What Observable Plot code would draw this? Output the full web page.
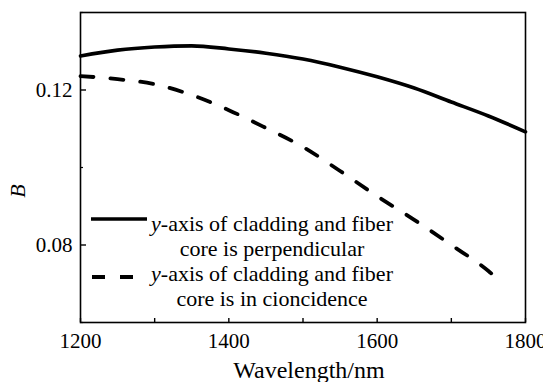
<!DOCTYPE html>
<html>
<head>
<meta charset="utf-8">
<script src="https://cdn.jsdelivr.net/npm/d3@7"></script>
<script src="https://cdn.jsdelivr.net/npm/@observablehq/plot@0.6"></script>
<style>html, body { margin: 0; padding: 0; background: #fff; }</style>
</head>
<body>
<div id="chart"></div>
<script>
// Data
const wavelengthSolid = [1200, 1250, 1300, 1350, 1400, 1450, 1500, 1550, 1600, 1650, 1700, 1750, 1800];
const bPerpendicular = [0.1288, 0.1303, 0.1311, 0.1314, 0.1306, 0.1295, 0.1280, 0.1259, 0.1234, 0.1205, 0.1169, 0.1133, 0.1092];
const wavelengthDashed = [1200, 1250, 1300, 1350, 1400, 1450, 1500, 1550, 1600, 1650, 1700, 1750, 1770];
const bCoincidence = [0.1236, 0.1228, 0.1215, 0.1187, 0.1148, 0.1102, 0.1053, 0.0991, 0.0926, 0.0865, 0.0800, 0.0733, 0.0699];
const xTickLabels = [1200, 1400, 1600, 1800];
const xTicksAll = [1200, 1300, 1400, 1500, 1600, 1700, 1800];
const yTickLabels = [0.08, 0.12];
const yMinorTicks = [0.06, 0.10, 0.14];
const legendSolid = ["y-axis of cladding and fiber", "core is perpendicular"];
const legendDashed = ["y-axis of cladding and fiber", "core is in cioncidence"];
const xLabel = "Wavelength/nm";
const yLabel = "B";

const solidData = wavelengthSolid.map((w, i) => ({w, b: bPerpendicular[i]}));
const dashedData = wavelengthDashed.map((w, i) => ({w, b: bCoincidence[i]}));

const font = "Liberation Serif";

const plot = Plot.plot({
  width: 543,
  height: 382,
  marginLeft: 80,
  marginRight: 18,
  marginTop: 12,
  marginBottom: 60,
  style: {fontSize: "21px"},
  x: {domain: [1200, 1800]},
  y: {domain: [0.06, 0.14]},
  marks: [
    Plot.line(solidData, {x: "w", y: "b", stroke: "#000", strokeWidth: 3.6, curve: "monotone-x"}),
    Plot.line(dashedData, {x: "w", y: "b", stroke: "#000", strokeWidth: 3.8, strokeDasharray: "13,17", curve: "monotone-x"}),
    Plot.frame({stroke: "#000", strokeWidth: 1.6}),
    Plot.axisX(xTicksAll, {tickSize: -4, strokeWidth: 1.4, text: null, label: null}),
    Plot.axisX(xTickLabels, {tickSize: 0, tickPadding: 11, label: null, tickFormat: d => String(d)}),
    Plot.axisY(yTickLabels, {tickSize: -6, strokeWidth: 1.4, text: null, label: null}),
    Plot.axisY(yMinorTicks, {tickSize: -3, strokeWidth: 1.2, text: null, label: null}),
    Plot.axisY(yTickLabels, {tickSize: 0, tickPadding: 8, label: null, tickFormat: d => d.toFixed(2)})
  ]
});
plot.setAttribute("font-family", font);

document.getElementById("chart").appendChild(plot);

const svg = d3.select(plot);
// Axis titles
svg.append("text")
  .attr("x", 309).attr("y", 378)
  .attr("text-anchor", "middle")
  .attr("font-family", font).attr("font-size", 24)
  .text(xLabel);
svg.append("text")
  .attr("transform", "translate(25,191) rotate(-90)")
  .attr("text-anchor", "middle")
  .attr("font-family", font).attr("font-size", 22).attr("font-style", "italic")
  .text(yLabel);

// Legend
const lg = svg.append("g").attr("font-family", font).attr("font-size", 22).attr("fill", "#000");
lg.append("line").attr("x1", 91).attr("x2", 147).attr("y1", 219).attr("y2", 219)
  .attr("stroke", "#000").attr("stroke-width", 3.6);
lg.append("line").attr("x1", 92).attr("x2", 134).attr("y1", 277).attr("y2", 277)
  .attr("stroke", "#000").attr("stroke-width", 3.8).attr("stroke-dasharray", "13,15");

function legendLines(lines, y0) {
  lines.forEach((t, i) => {
    const txt = lg.append("text").attr("x", 272).attr("y", y0 + i * 25).attr("text-anchor", "middle");
    if (t.startsWith("y-")) {
      txt.append("tspan").attr("font-style", "italic").text("y");
      txt.append("tspan").text(t.slice(1));
    } else {
      txt.text(t);
    }
  });
}
legendLines(legendSolid, 231);
legendLines(legendDashed, 281);
</script>
</body>
</html>
